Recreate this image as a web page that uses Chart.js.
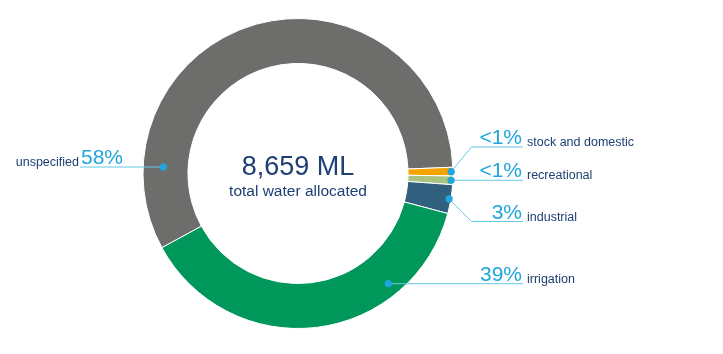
<!DOCTYPE html>
<html>
<head>
<meta charset="utf-8">
<script src="https://cdn.jsdelivr.net/npm/chart.js@4/dist/chart.umd.min.js"></script>
<style>
html,body{margin:0;padding:0;background:#fff;}
#wrap{width:723px;height:354px;position:relative;}
</style>
</head>
<body>
<div id="wrap"><canvas id="c" width="723" height="354"></canvas></div>
<script>
const categories = ['unspecified', 'stock and domestic', 'recreational', 'industrial', 'irrigation'];
const shares = [57.3, 0.9, 0.9, 3.0, 37.9];
const shareLabels = ['58%', '<1%', '<1%', '3%', '39%'];
const totalLabel = '8,659 ML';
const totalCaption = 'total water allocated';
const sliceColors = ['#6d6e6c', '#f5a300', '#a8c47e', '#30607d', '#00975b'];

const FONT = '"Liberation Sans", Arial, Helvetica, sans-serif';
const DARK = '#1d3f72';
const CYAN = '#1fa6dc';
const LINE = '#66c8e6';

// leader layout: t = position along slice angle, r = radial position in ring
const leaders = [
  {t: 0.152, r: 0.55, side: 'left', endDx: -218},
  {t: 0.5, r: 0.96, side: 'right', elbowDx: 173.5, lineDy: -26.5, endDx: 225},
  {t: 0.5, r: 0.96, side: 'right', endDx: 225},
  {t: 0.5, r: 0.96, side: 'right', elbowDx: 173.5, lineDy: 48, endDx: 225},
  {t: 0.262, r: 0.72, side: 'right', endDx: 225}
];

const labelPlugin = {
  id: 'labels',
  afterDraw(chart) {
    const ctx = chart.ctx;
    const arcs = chart.getDatasetMeta(0).data;
    const cx = arcs[0].x, cy = arcs[0].y;
    ctx.save();
    ctx.fillStyle = DARK;
    ctx.textAlign = 'center';
    ctx.textBaseline = 'alphabetic';
    ctx.font = '27px ' + FONT;
    ctx.fillText(totalLabel, cx, cy + 1);
    ctx.font = '15.5px ' + FONT;
    ctx.fillText(totalCaption, cx, cy + 22);

    arcs.forEach((arc, i) => {
      const L = leaders[i];
      const a = arc.startAngle + (arc.endAngle - arc.startAngle) * L.t;
      const rr = arc.innerRadius + (arc.outerRadius - arc.innerRadius) * L.r;
      const dx = cx + Math.cos(a) * rr;
      const dy = cy + Math.sin(a) * rr;
      const lineY = (L.lineDy !== undefined) ? cy + L.lineDy : dy;
      const endX = cx + L.endDx;
      ctx.strokeStyle = LINE;
      ctx.lineWidth = 1;
      ctx.beginPath();
      ctx.moveTo(dx, dy);
      if (L.elbowDx !== undefined) ctx.lineTo(cx + L.elbowDx, lineY);
      ctx.lineTo(endX, lineY);
      ctx.stroke();
      ctx.fillStyle = CYAN;
      ctx.beginPath();
      ctx.arc(dx, dy, 3.6, 0, Math.PI * 2);
      ctx.fill();

      if (L.side === 'right') {
        ctx.textAlign = 'right';
        ctx.fillStyle = CYAN;
        ctx.font = '21px ' + FONT;
        ctx.fillText(shareLabels[i], endX - 1, lineY - 3);
        ctx.textAlign = 'left';
        ctx.fillStyle = DARK;
        ctx.font = '12.5px ' + FONT;
        ctx.fillText(categories[i], endX + 4, lineY - 1);
      } else {
        ctx.textAlign = 'left';
        ctx.fillStyle = CYAN;
        ctx.font = '21px ' + FONT;
        ctx.fillText(shareLabels[i], endX + 1, lineY - 3);
        ctx.textAlign = 'right';
        ctx.fillStyle = DARK;
        ctx.font = '12.5px ' + FONT;
        ctx.fillText(categories[i], endX - 1, lineY - 1.5);
      }
    });
    ctx.restore();
  }
};

new Chart(document.getElementById('c'), {
  type: 'doughnut',
  data: {
    labels: categories,
    datasets: [{
      data: shares,
      backgroundColor: sliceColors,
      borderColor: '#ffffff',
      borderWidth: 1
    }]
  },
  options: {
    responsive: false,
    animation: false,
    rotation: 241.4,
    cutout: '71%',
    layout: {padding: {left: 0, right: 127, top: 18, bottom: 25}},
    plugins: {
      legend: {display: false},
      tooltip: {enabled: false}
    }
  },
  plugins: [labelPlugin]
});
</script>
</body>
</html>
